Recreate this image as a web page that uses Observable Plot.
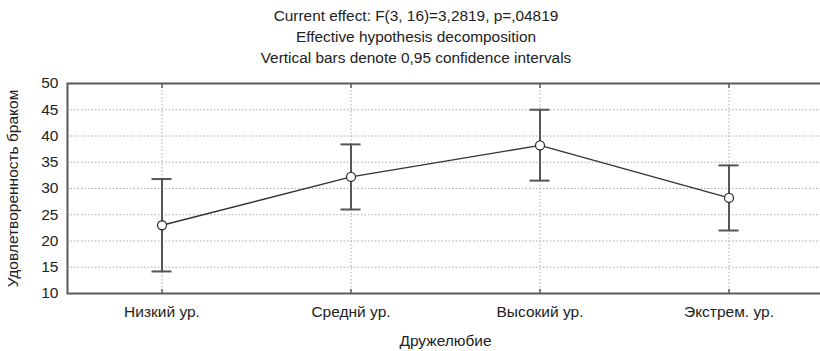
<!DOCTYPE html>
<html>
<head>
<meta charset="utf-8">
<script src="https://cdn.jsdelivr.net/npm/d3@7"></script>
<script src="https://cdn.jsdelivr.net/npm/@observablehq/plot@0.6"></script>
<style>
  html, body { margin: 0; padding: 0; background: #fff; overflow: hidden; }
  body { width: 820px; height: 351px; font-family: "Liberation Sans", Arial, sans-serif; }
  #titles { height: 68px; box-sizing: border-box; padding-top: 5px; padding-left: 12px;
            text-align: center; font-size: 15.4px; line-height: 21px; color: #222; }
  #chart svg { display: block; }
</style>
</head>
<body>
<div id="titles">
  <div>Current effect: F(3, 16)=3,2819, p=,04819</div>
  <div>Effective hypothesis decomposition</div>
  <div>Vertical bars denote 0,95 confidence intervals</div>
</div>
<div id="chart"></div>
<script>
// Group means and 95% confidence limits
const groups = ["Низкий ур.", "Среднй ур.", "Высокий ур.", "Экстрем. ур."];
const means  = [23.0, 32.2, 38.2, 28.2];
const lower  = [14.2, 26.0, 31.5, 22.0];
const upper  = [31.8, 38.4, 45.0, 34.4];
const yTicks = [10, 15, 20, 25, 30, 35, 40, 45, 50];
const yTitle = "Удовлетворенность браком";
const xTitle = "Дружелюбие";

const rows = groups.map((g, i) => ({group: g, mean: means[i], lo: lower[i], hi: upper[i]}));

const frameColor = "#5a5a5a";
const barColor = "#555";
const lineColor = "#333";
const fs = 15.5;
const W = 820, ML = 67, MR = -3;
// half-width of the band minus half the cap length (caps are 20px wide)
const capInset = ((W - ML - MR) / groups.length) / 2 - 10;

const chart = Plot.plot({
  width: W,
  height: 283,
  marginTop: 15,
  marginBottom: 58,
  marginLeft: ML,
  marginRight: MR,
  style: {fontFamily: "'Liberation Sans', Arial, sans-serif", fontSize: fs + "px", color: "#222", background: "#fff"},
  x: {type: "band", domain: groups, padding: 0},
  y: {domain: [10, 50]},
  marks: [
    // dotted grid
    Plot.gridY(yTicks.slice(1, -1), {stroke: "#aaa", strokeOpacity: 1, strokeDasharray: "1.5,2", strokeWidth: 1}),
    Plot.gridX(groups, {stroke: "#aaa", strokeOpacity: 1, strokeDasharray: "1.5,2", strokeWidth: 1}),
    // axes
    Plot.axisY(yTicks, {tickSize: 0, tickPadding: 9, fontSize: fs, label: null}),
    Plot.axisX(groups, {tickSize: 0, tickPadding: 12, fontSize: fs, label: null}),
    Plot.axisX(groups, {anchor: "bottom", tickSize: -4, text: null, stroke: frameColor, strokeWidth: 1.5, label: null}),
    Plot.axisX(groups, {anchor: "top", tickSize: -4, text: null, stroke: frameColor, strokeWidth: 1.5, label: null}),
    // frame
    Plot.frame({stroke: frameColor, strokeWidth: 2}),
    // confidence intervals
    Plot.ruleX(rows, {x: "group", y1: "lo", y2: "hi", stroke: barColor, strokeWidth: 2}),
    Plot.tickY(rows, {x: "group", y: "lo", stroke: barColor, strokeWidth: 2, insetLeft: capInset, insetRight: capInset}),
    Plot.tickY(rows, {x: "group", y: "hi", stroke: barColor, strokeWidth: 2, insetLeft: capInset, insetRight: capInset}),
    // means
    Plot.line(rows, {x: "group", y: "mean", stroke: lineColor, strokeWidth: 1.3}),
    Plot.dot(rows, {x: "group", y: "mean", r: 4.5, fill: "#fff", stroke: lineColor, strokeWidth: 1.3}),
    // axis titles
    Plot.text([yTitle], {frameAnchor: "left", textAnchor: "middle", rotate: -90, dx: -54, fontSize: fs, fill: "#222"}),
    Plot.text([xTitle], {frameAnchor: "bottom", dy: 52, fontSize: fs, fill: "#222"})
  ]
});
document.getElementById("chart").appendChild(chart);
</script>
</body>
</html>
